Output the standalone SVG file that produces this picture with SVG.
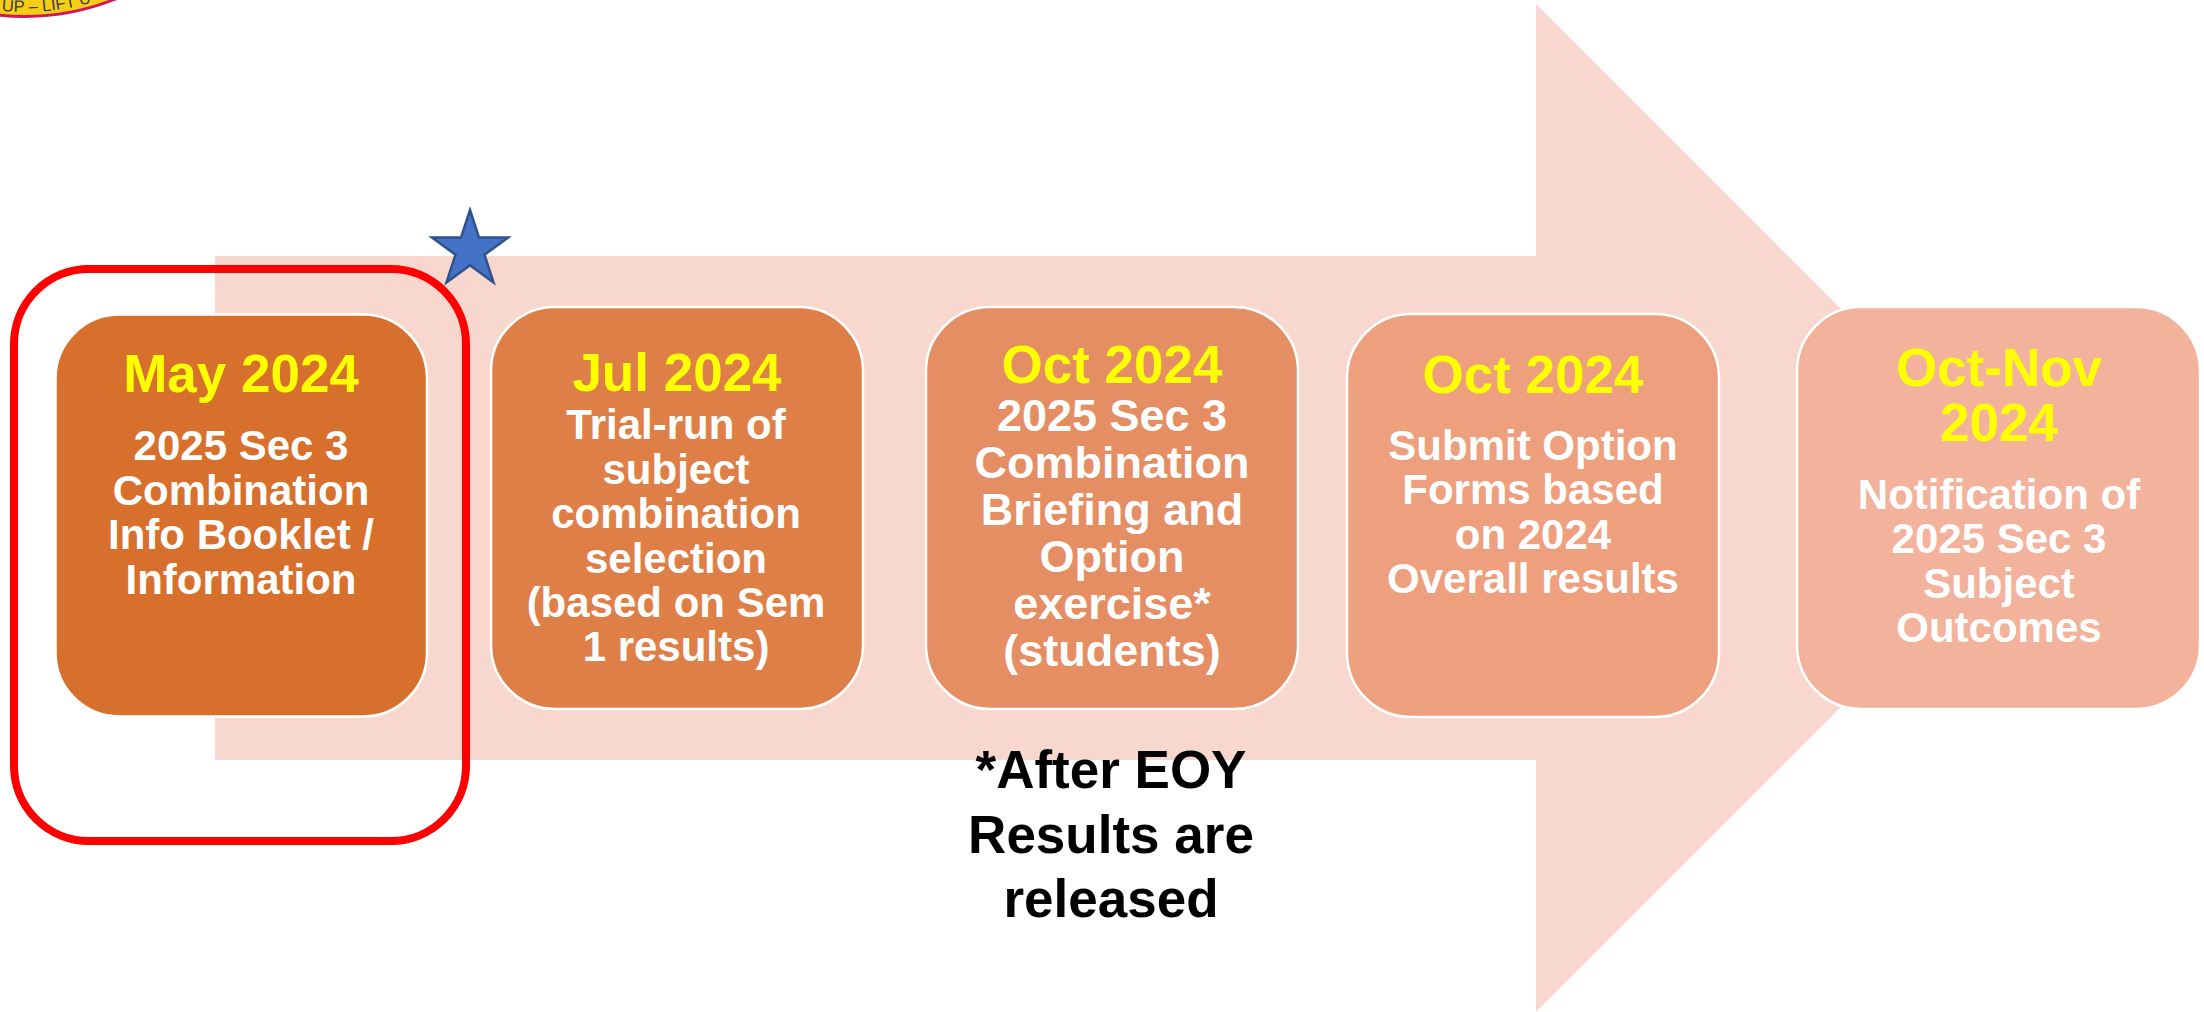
<svg xmlns="http://www.w3.org/2000/svg" width="2204" height="1012" viewBox="0 0 2204 1012">
  <style>
    text { font-family: "Liberation Sans", Arial, sans-serif; font-weight: bold; text-anchor: middle; }
    .box { stroke: #FFFFFF; stroke-width: 2.5; }
    .title { font-size: 53px; fill: #FFFF00; }
    .body { font-size: 42px; fill: #FFFFFF; }
    .body45 { font-size: 45px; fill: #FFFFFF; }
    .note { font-size: 53px; fill: #000000; }
    .logo { font-weight: normal; font-size: 16.5px; fill: #3B3A4E; text-anchor: start; }
  </style>
  <defs>
    <path id="logoCurve" d="M-30 5.6 A238 238 0 0 0 125 -10"/>
  </defs>
  <rect width="2204" height="1012" fill="#FFFFFF"/>

  <g id="logo">
    <circle cx="25" cy="-226" r="242.500" fill="#F7CE14" stroke="#D4145A" stroke-width="3"/>
    <text class="logo"><textPath href="#logoCurve" startOffset="32">UP – LIFT U</textPath></text>
  </g>

  <g id="timeline-arrow">
    <polygon points="215,256 1536,256 1536,4 2040,508 1536,1012 1536,760 215,760" fill="#F8D8CE"/>
  </g>

  <g id="node-may-2024">
    <rect class="box" x="55.500" y="314.500" width="371.500" height="402" rx="64" ry="64" fill="#D7702C"/>
    <text class="title" x="241" y="392">May 2024</text>
    <text class="body" x="241" y="460">2025 Sec 3</text>
    <text class="body" x="241" y="505">Combination</text>
    <text class="body" x="241" y="549">Info Booklet /</text>
    <text class="body" x="241" y="594">Information</text>
  </g>

  <g id="node-jul-2024">
    <rect class="box" x="491" y="307" width="372" height="402" rx="64" ry="64" fill="#DF7F48"/>
    <text class="title" x="677" y="391">Jul 2024</text>
    <text class="body" x="676" y="439">Trial-run of</text>
    <text class="body" x="676" y="484">subject</text>
    <text class="body" x="676" y="528">combination</text>
    <text class="body" x="676" y="573">selection</text>
    <text class="body" x="676" y="617">(based on Sem</text>
    <text class="body" x="676" y="661">1 results)</text>
  </g>

  <g id="node-oct-2024-briefing">
    <rect class="box" x="926" y="307" width="372" height="402" rx="64" ry="64" fill="#E58D63"/>
    <text class="title" x="1112" y="383">Oct 2024</text>
    <text class="body45" x="1112" y="431">2025 Sec 3</text>
    <text class="body45" x="1112" y="478">Combination</text>
    <text class="body45" x="1112" y="525">Briefing and</text>
    <text class="body45" x="1112" y="572">Option</text>
    <text class="body45" x="1112" y="619">exercise*</text>
    <text class="body45" x="1112" y="666">(students)</text>
  </g>

  <g id="node-oct-2024-forms">
    <rect class="box" x="1347" y="314" width="372" height="403" rx="64" ry="64" fill="#ED9F7E"/>
    <text class="title" x="1533" y="393">Oct 2024</text>
    <text class="body" x="1533" y="460">Submit Option</text>
    <text class="body" x="1533" y="504">Forms based</text>
    <text class="body" x="1533" y="549">on 2024</text>
    <text class="body" x="1533" y="593">Overall results</text>
  </g>

  <g id="node-oct-nov-2024">
    <rect class="box" x="1797" y="307" width="403" height="402" rx="64" ry="64" fill="#F3B29C"/>
    <text class="title" x="1999" y="386">Oct-Nov</text>
    <text class="title" x="1999" y="441">2024</text>
    <text class="body" x="1999" y="509">Notification of</text>
    <text class="body" x="1999" y="553">2025 Sec 3</text>
    <text class="body" x="1999" y="598">Subject</text>
    <text class="body" x="1999" y="642">Outcomes</text>
  </g>

  <g id="note-eoy">
    <text class="note" x="1111" y="788">*After EOY</text>
    <text class="note" x="1111" y="853">Results are</text>
    <text class="note" x="1111" y="917">released</text>
  </g>

  <g id="highlight-frame">
    <rect x="14" y="269" width="452" height="572" rx="75" ry="75" fill="none" stroke="#FF0000" stroke-width="8"/>
  </g>

  <g id="star">
    <polygon points="470,210 479,237.600 508,237.600 484.500,254.700 493.500,282.400 470,265.300 446.500,282.400 455.500,254.700 432,237.600 461,237.600" fill="#4472C4" stroke="#2F528F" stroke-width="2.500" stroke-miterlimit="12"/>
  </g>
</svg>
